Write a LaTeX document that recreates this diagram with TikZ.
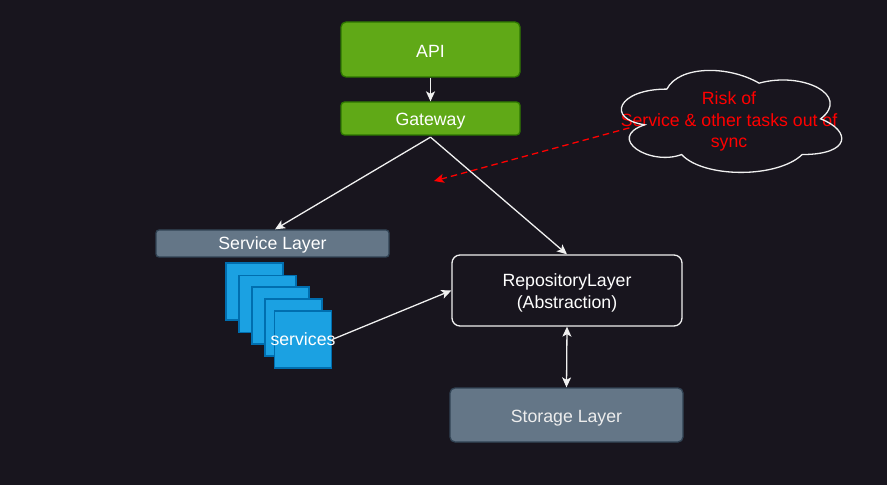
\documentclass[tikz,border=0pt]{standalone}
\usepackage{fontspec}
\setmainfont{Liberation Sans}
\usetikzlibrary{arrows.meta,calc}
\definecolor{bg}{HTML}{18151E}
\definecolor{grnfill}{HTML}{60A917}
\definecolor{grnline}{HTML}{2D7600}
\definecolor{slfill}{HTML}{647687}
\definecolor{slline}{HTML}{314354}
\definecolor{blfill}{HTML}{1BA1E2}
\definecolor{blline}{HTML}{006EAF}
\definecolor{edge}{HTML}{F0F0F0}
\definecolor{riskred}{HTML}{FF0000}
% text placed with its first baseline #1 below the node centre, taking no room
\newcommand{\placedtext}[2]{\makebox[0pt]{\raisebox{-#1}[0pt][0pt]{\begin{tabular}[t]{@{}c@{}}#2\end{tabular}}}}
\tikzset{
  box/.style={rectangle, inner sep=0pt, line width=1.3bp, text=white,
    font=\fontsize{17.7bp}{21.4bp}\selectfont},
  greenbox/.style={box, fill=grnfill, draw=grnline, rounded corners=5bp},
  slatebox/.style={box, fill=slfill, draw=slline},
  svcsq/.style={box, fill=blfill, draw=blline, minimum width=57bp, minimum height=57bp},
  tip/.tip={Stealth[length=10bp,width=9bp,inset=2.5bp]},
  conn/.style={draw=edge, line width=1.3bp, -tip},
  bothconn/.style={draw=edge, line width=1.3bp, tip-tip},
  riskconn/.style={draw=riskred, line width=1.3bp, dash pattern=on 6.5bp off 4bp, -tip},
}
\begin{document}
\begin{tikzpicture}[x=1bp,y=-1bp]
\fill[bg] (0,0) rectangle (887,485);
\useasboundingbox (0,0) rectangle (887,485);

\node[greenbox, minimum width=179bp, minimum height=55bp] (api) at (430.5,49.5) {\placedtext{7.8bp}{API}};
\node[greenbox, minimum width=179bp, minimum height=33bp, rounded corners=3.5bp] (gw) at (430.5,118.5) {\placedtext{7.5bp}{Gateway}};
\node[slatebox, minimum width=233bp, minimum height=27bp, rounded corners=3bp] (svc) at (272.5,243.5) {\placedtext{6bp}{Service Layer}};

\node[svcsq] (s1) at (254.5,291.5) {};
\node[svcsq] (s2) at (267.5,304) {};
\node[svcsq] (s3) at (280.5,315.5) {};
\node[svcsq] (s4) at (293.5,327.5) {};
\node[svcsq] (s5) at (303,339.5) {\placedtext{6.2bp}{services}};

\node[box, draw=edge, fill=bg, minimum width=230bp, minimum height=71bp, rounded corners=8bp] (repo) at (567,290.5) {\placedtext{-3.6bp}{RepositoryLayer\\(Abstraction)}};
\node[slatebox, minimum width=233bp, minimum height=54bp, rounded corners=5bp, text=white!93!black] (stor) at (566.5,415) {\placedtext{7.7bp}{Storage Layer}};

\node[box, text=riskred, minimum width=246bp, minimum height=119bp] (risk) at (729,119.5) {\placedtext{-14.5bp}{Risk of\\Service \& other tasks out of\\sync}};
\begin{scope}[shift={(risk.north west)}]
\draw[edge, line width=1.3bp] (61.5,29.75) .. controls (12.3,29.75) and (0,59.5) .. (39.36,65.45)
 .. controls (0,78.54) and (44.28,107.1) .. (76.26,95.2)
 .. controls (98.4,119) and (172.2,119) .. (196.8,95.2)
 .. controls (246,95.2) and (246,71.4) .. (215.25,59.5)
 .. controls (246,35.7) and (196.8,11.9) .. (153.75,23.8)
 .. controls (123,5.95) and (73.8,5.95) .. (61.5,29.75) -- cycle;
\end{scope}
\coordinate (riskstart) at ($(risk.north west)+(24,68.5)$);
\coordinate (riskend) at (434,181);

\draw[conn] (api.south) -- (gw.north);
\draw[conn] ($(gw.south)+(0,1.5)$) -- ($(svc.north)+(2.5,0)$);
\draw[conn] ($(gw.south)+(0,1.5)$) -- (repo.north);
\draw[conn] (s5.east) -- (repo.west);
\draw[bothconn] (repo.south) -- (stor.north);
\draw[riskconn] (riskstart) -- (riskend);
\end{tikzpicture}
\end{document}
